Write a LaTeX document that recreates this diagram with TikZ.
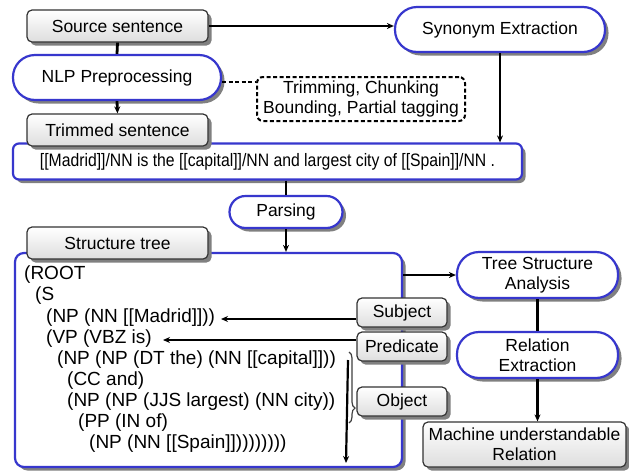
\documentclass[tikz,border=0pt]{standalone}
\usepackage{fontspec}
\setmainfont{Liberation Sans}
\usetikzlibrary{shadows,arrows.meta,decorations.pathreplacing}
\definecolor{bluebd}{RGB}{55,55,205}
\tikzset{
  shad/.style={drop shadow={shadow xshift=3.5pt, shadow yshift=-3.5pt, fill=black!50, opacity=1}},
  txt/.style={font=\fontsize{17.5}{20}\selectfont, align=center, inner sep=0pt},
  graybox/.style={txt, shad, draw=black!80, line width=1.2pt, rounded corners=5pt, top color=white, bottom color=black!13},
  bluebox/.style={txt, shad, draw=bluebd, line width=2.2pt, fill=white},
  pill/.style={bluebox, rounded corners=22pt},
  dashbox/.style={txt, draw=black, line width=2pt, dashed, dash pattern=on 4pt off 2.5pt, rounded corners=6pt, fill=white},
  conn/.style={line width=2.8pt, black},
  arr/.style={conn, -{Stealth[length=7pt,width=6pt]}},
  treeline/.style={font=\fontsize{19}{21}\selectfont, anchor=west, inner sep=0pt},
}
\begin{document}
\begin{tikzpicture}[x=1pt,y=-1pt]
\useasboundingbox[fill=white] (0,0) rectangle (629,472);
% top part
\node[graybox, minimum width=181pt, minimum height=32pt] (src) at (117.5,26) {Source sentence};
\node[pill, minimum width=208pt, minimum height=45pt] (nlp) at (117,77.5) {NLP Preprocessing};
\node[pill, minimum width=210pt, minimum height=45pt] (syn) at (500,29.5) {Synonym Extraction};
\node[dashbox, minimum width=208pt, minimum height=44pt] (trim) at (361,99) {Trimming, Chunking\\Bounding, Partial tagging};
\node[bluebox, rounded corners=6pt, minimum width=509pt, minimum height=36pt] (sent) at (267.5,161.5) {\fontsize{18}{20}\selectfont\scalebox{0.875}[1]{[[Madrid]]/NN is the [[capital]]/NN and largest city of [[Spain]]/NN .}};
\node[graybox, minimum width=181pt, minimum height=32pt] (tsent) at (117.5,130) {Trimmed sentence};
\node[pill, rounded corners=16pt, minimum width=113pt, minimum height=32pt] (pars) at (286,212) {Parsing};
% structure tree
\node[bluebox, rounded corners=9pt, minimum width=387pt, minimum height=214pt] (tree) at (208.5,360) {};
\node[graybox, minimum width=181pt, minimum height=32pt] (stl) at (117.5,243) {Structure tree};
\node[treeline] (t1) at (24,275) {(ROOT};
\node[treeline] (t2) at (35,296) {(S};
\node[treeline] (t3) at (46,318) {(NP (NN [[Madrid]]))};
\node[treeline] (t4) at (46,339) {(VP (VBZ is)};
\node[treeline] (t5) at (57,360) {(NP (NP (DT the) (NN [[capital]]))};
\node[treeline] (t6) at (67,381) {(CC and)};
\node[treeline] (t7) at (67,402) {(NP (NP (JJS largest) (NN city))};
\node[treeline] (t8) at (78,423) {(PP (IN of)};
\node[treeline] (t9) at (89,444) {(NP (NN [[Spain]]))))))))};
% right part
\node[pill, minimum width=161pt, minimum height=46pt] (tsa) at (537.5,275) {Tree Structure\\Analysis};
\node[pill, minimum width=161pt, minimum height=46pt] (rel) at (537.5,355) {Relation\\Extraction};
\node[graybox, minimum width=203pt, minimum height=45pt] (mur) at (524.5,444.5) {Machine understandable\\Relation};
\node[graybox, minimum width=90pt, minimum height=29pt] (subj) at (402,312.5) {Subject};
\node[graybox, minimum width=90pt, minimum height=29pt] (pred) at (402,346.5) {Predicate};
\node[graybox, minimum width=90pt, minimum height=29pt] (obj) at (402,401.5) {Object};
% connectors
\draw[conn] (src.south) -- (nlp.north);
\draw[arr] (nlp.south) -- (tsent.north);
\coordinate (dl) at (0,82);
\draw[conn, dashed, dash pattern=on 4pt off 2.5pt, line width=2pt] (nlp.east |- dl) -- (trim.west |- dl);
\draw[arr] (src.east) -- (src.east -| syn.west);
\draw[arr] (syn.south) -- (syn.south |- sent.north);
\draw[conn] (pars.north |- sent.south) -- (pars.north);
\draw[arr] (pars.south) -- (pars.south |- tree.north);
\draw[arr] (tree.east |- tsa.west) -- (tsa.west);
\draw[conn] (tsa.south) -- (rel.north);
\draw[arr] (rel.south) -- (rel.south |- mur.north);
\coordinate (sa) at (221,319);
\coordinate (pa) at (163,340);
\draw[arr] (subj.west |- sa) -- (sa);
\draw[arr] (pred.west |- pa) -- (pa);
\coordinate (ot) at (348,360);
\coordinate (ob) at (346,463);
\draw[arr, line width=2.2pt] (ot) -- (ob);
\coordinate (bt) at (349,352);
\coordinate (bb) at (349,423);
\draw[decorate, decoration={brace, amplitude=6pt, aspect=0.79}, line width=1.2pt, black!75] (bt) -- (bb);
\end{tikzpicture}
\end{document}
